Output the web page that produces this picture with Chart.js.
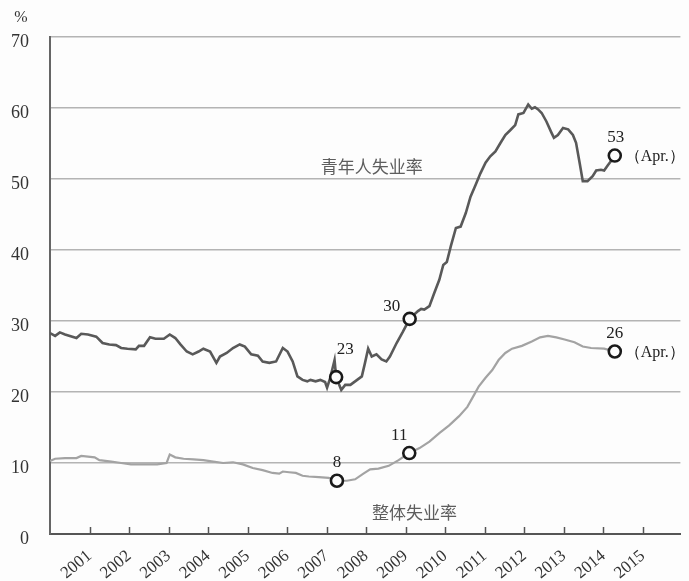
<!DOCTYPE html>
<html><head><meta charset="utf-8">
<script src="https://cdn.jsdelivr.net/npm/chart.js@4.4.0/dist/chart.umd.min.js"></script>
<style>html,body{margin:0;padding:0;background:#fdfdfd;}#wrap{width:689px;height:581px;}</style>
</head><body><div id="wrap"><canvas id="c" width="689" height="581"></canvas></div>
<script>
// ---- data ----
const yearTicks = [2001,2002,2003,2004,2005,2006,2007,2008,2009,2010,2011,2012,2013,2014,2015];
const tickLabels = ['2001','2002','2003','2004','2005','2006','2007','2008','2009','2010','2011','2012','2013','2014','2015'];
const yTicks = [0,10,20,30,40,50,60,70];
const seriesNames = ['青年人失业率','整体失业率'];
const unitLabel = '%';
const lastNote = '（Apr.）';

const youthDates = [2000.00,2000.13,2000.25,2000.38,2000.67,2000.79,2000.96,2001.17,2001.33,2001.50,2001.67,2001.80,2001.96,2002.17,2002.25,2002.38,2002.53,2002.67,2002.88,2003.03,2003.17,2003.30,2003.46,2003.61,2003.76,2003.88,2004.05,2004.21,2004.30,2004.47,2004.63,2004.80,2004.93,2005.09,2005.26,2005.38,2005.55,2005.72,2005.89,2006.01,2006.14,2006.26,2006.39,2006.51,2006.59,2006.72,2006.84,2006.96,2007.01,2007.09,2007.20,2007.24,2007.37,2007.47,2007.60,2007.72,2007.89,2007.97,2008.05,2008.14,2008.26,2008.39,2008.51,2008.60,2008.77,2008.93,2009.10,2009.31,2009.39,2009.47,2009.60,2009.72,2009.85,2009.95,2010.04,2010.14,2010.27,2010.39,2010.52,2010.64,2010.77,2010.89,2011.02,2011.14,2011.27,2011.40,2011.52,2011.65,2011.77,2011.85,2011.98,2012.10,2012.19,2012.27,2012.35,2012.44,2012.56,2012.69,2012.75,2012.85,2012.98,2013.11,2013.23,2013.31,2013.40,2013.48,2013.60,2013.73,2013.82,2013.94,2014.02,2014.11,2014.19,2014.29];
const youthValues = [28.3,27.9,28.4,28.1,27.6,28.2,28.1,27.8,26.9,26.7,26.6,26.2,26.1,26.0,26.5,26.5,27.7,27.5,27.5,28.1,27.6,26.7,25.7,25.3,25.7,26.1,25.7,24.1,25.0,25.5,26.2,26.7,26.4,25.3,25.1,24.3,24.1,24.3,26.2,25.7,24.3,22.2,21.7,21.5,21.7,21.5,21.7,21.4,20.6,22.0,24.5,22.1,20.3,21.0,21.0,21.5,22.2,24.1,26.1,25.0,25.3,24.6,24.3,25.0,26.9,28.5,30.3,31.4,31.7,31.6,32.1,33.9,35.8,37.9,38.3,40.5,43.1,43.3,45.2,47.5,49.2,50.8,52.3,53.2,53.9,55.1,56.2,56.9,57.6,59.1,59.3,60.5,59.9,60.1,59.8,59.3,58.1,56.5,55.8,56.2,57.2,57.0,56.2,55.1,52.3,49.7,49.7,50.4,51.2,51.3,51.2,51.9,52.5,53.3];

const totalDates = [2000.00,2000.13,2000.38,2000.67,2000.79,2000.96,2001.13,2001.25,2001.55,2001.80,2002.05,2002.38,2002.71,2002.95,2003.03,2003.17,2003.38,2003.63,2003.88,2004.13,2004.38,2004.63,2004.88,2005.13,2005.38,2005.63,2005.80,2005.89,2006.05,2006.22,2006.39,2006.55,2006.80,2007.05,2007.26,2007.51,2007.72,2007.93,2008.10,2008.31,2008.57,2008.82,2009.09,2009.35,2009.60,2009.85,2010.10,2010.35,2010.56,2010.73,2010.85,2011.02,2011.19,2011.35,2011.52,2011.69,2011.94,2012.19,2012.40,2012.60,2012.81,2013.02,2013.27,2013.48,2013.69,2014.02,2014.29];
const totalValues = [10.3,10.6,10.7,10.7,11.0,10.9,10.8,10.4,10.2,10.0,9.8,9.8,9.8,10.0,11.2,10.8,10.6,10.5,10.4,10.2,10.0,10.1,9.8,9.3,9.0,8.6,8.5,8.8,8.7,8.6,8.2,8.1,8.0,7.9,7.5,7.5,7.7,8.5,9.1,9.2,9.6,10.4,11.4,12.1,13.0,14.2,15.3,16.6,17.9,19.6,20.8,22.0,23.1,24.5,25.5,26.1,26.5,27.1,27.7,27.9,27.7,27.4,27.0,26.4,26.2,26.1,25.7];

const youthMarkDates = [2007.24, 2009.10, 2014.29];
const youthMarkValues = [22.1, 30.3, 53.3];
const youthMarkLabels = ['23','30','53'];
const totalMarkDates = [2007.26, 2009.09, 2014.29];
const totalMarkValues = [7.5, 11.4, 25.7];
const totalMarkLabels = ['8','11','26'];

// name label anchors (in data units)
const nameAnchorDates = [2008.14, 2009.22];
const nameAnchorValues = [51.7, 3.0];

// ---- styling / placement (pixels) ----
const youthLabelOffsets = [[9,-28],[-18,-12],[1,-18]];
const totalLabelOffsets = [[0,-18],[-10,-18],[0,-18]];
const SERIF = '"Liberation Serif", "DejaVu Serif", serif';
const CJK = '"Noto Sans CJK SC", sans-serif';

const toXY = (xs, ys) => xs.map((x,i)=>({x, y: ys[i]}));

const textPlugin = {
  id: 'texts',
  afterDraw(chart) {
    const ctx = chart.ctx, xs = chart.scales.x, ys = chart.scales.y;
    ctx.save();
    // inside tick marks on x axis
    ctx.strokeStyle = '#555'; ctx.lineWidth = 1.5;
    yearTicks.forEach(v => {
      const px = Math.round(xs.getPixelForValue(v)) + 0.5;
      ctx.beginPath(); ctx.moveTo(px, ys.bottom); ctx.lineTo(px, ys.bottom - 7); ctx.stroke();
    });
    // unit
    ctx.fillStyle = '#333'; ctx.font = '16px ' + SERIF;
    ctx.textAlign = 'center'; ctx.textBaseline = 'middle';
    ctx.fillText(unitLabel, 21, 18);
    // marker labels
    ctx.font = '17px ' + SERIF; ctx.fillStyle = '#222';
    const drawLabels = (dates, vals, labels, offs) => {
      dates.forEach((d,i) => {
        const px = xs.getPixelForValue(d), py = ys.getPixelForValue(vals[i]);
        ctx.textAlign = 'center';
        ctx.fillText(labels[i], px + offs[i][0], py + offs[i][1]);
      });
    };
    drawLabels(youthMarkDates, youthMarkValues, youthMarkLabels, youthLabelOffsets);
    drawLabels(totalMarkDates, totalMarkValues, totalMarkLabels, totalLabelOffsets);
    // (Apr.) notes
    ctx.font = '16px ' + SERIF; ctx.textAlign = 'left';
    [[youthMarkDates[2], youthMarkValues[2]],[totalMarkDates[2], totalMarkValues[2]]].forEach(([d,v]) => {
      ctx.fillText(lastNote, xs.getPixelForValue(d) + 10, ys.getPixelForValue(v) + 1);
    });
    // series names
    ctx.font = '17px ' + CJK; ctx.fillStyle = '#5e5e5e'; ctx.textAlign = 'center';
    seriesNames.forEach((n,i) => {
      ctx.fillText(n, xs.getPixelForValue(nameAnchorDates[i]), ys.getPixelForValue(nameAnchorValues[i]));
    });
    ctx.restore();
  }
};

new Chart(document.getElementById('c'), {
  type: 'line',
  data: {
    datasets: [
      { label: 'm1', data: toXY(youthMarkDates, youthMarkValues), showLine: false, order: 0,
        pointRadius: 6, pointBorderWidth: 2.6, pointBorderColor: '#1a1a1a', pointBackgroundColor: '#fdfdfd' },
      { label: 'm2', data: toXY(totalMarkDates, totalMarkValues), showLine: false, order: 0,
        pointRadius: 6, pointBorderWidth: 2.6, pointBorderColor: '#1a1a1a', pointBackgroundColor: '#fdfdfd' },
      { label: seriesNames[0], data: toXY(youthDates, youthValues), order: 1,
        borderColor: '#595959', borderWidth: 2.6, pointRadius: 0, tension: 0, fill: false },
      { label: seriesNames[1], data: toXY(totalDates, totalValues), order: 2,
        borderColor: '#a3a3a3', borderWidth: 2.2, pointRadius: 0, tension: 0, fill: false }
    ]
  },
  options: {
    responsive: false, animation: false, devicePixelRatio: 1,
    layout: { padding: { top: 37, right: -1, left: 0, bottom: 0 } },
    plugins: { legend: { display: false }, tooltip: { enabled: false } },
    scales: {
      x: {
        type: 'linear', min: 2000, max: 2015.95,
        afterBuildTicks: s => { s.ticks = yearTicks.map(v => ({ value: v })); },
        afterFit: s => { s.height = 47; s.paddingLeft = 0; s.paddingRight = 0; },
        grid: { display: false, drawTicks: false },
        border: { display: true, color: '#555', width: 2 },
        ticks: {
          autoSkip: false, minRotation: 40, maxRotation: 40, padding: 12,
          color: '#333', font: { family: SERIF, size: 17 },
          callback: v => tickLabels[yearTicks.indexOf(v)]
        }
      },
      y: {
        min: 0, max: 70,
        afterBuildTicks: s => { s.ticks = yTicks.map(v => ({ value: v })); },
        afterFit: s => { s.width = 50; s.paddingTop = 0; s.paddingBottom = 0; },
        grid: { color: '#b4b4b4', lineWidth: 1.6, drawTicks: false },
        border: { display: true, color: '#666', width: 2 },
        ticks: { padding: 21, labelOffset: 5, color: '#333', font: { family: SERIF, size: 18 } }
      }
    }
  },
  plugins: [textPlugin]
});
</script>
</body></html>
